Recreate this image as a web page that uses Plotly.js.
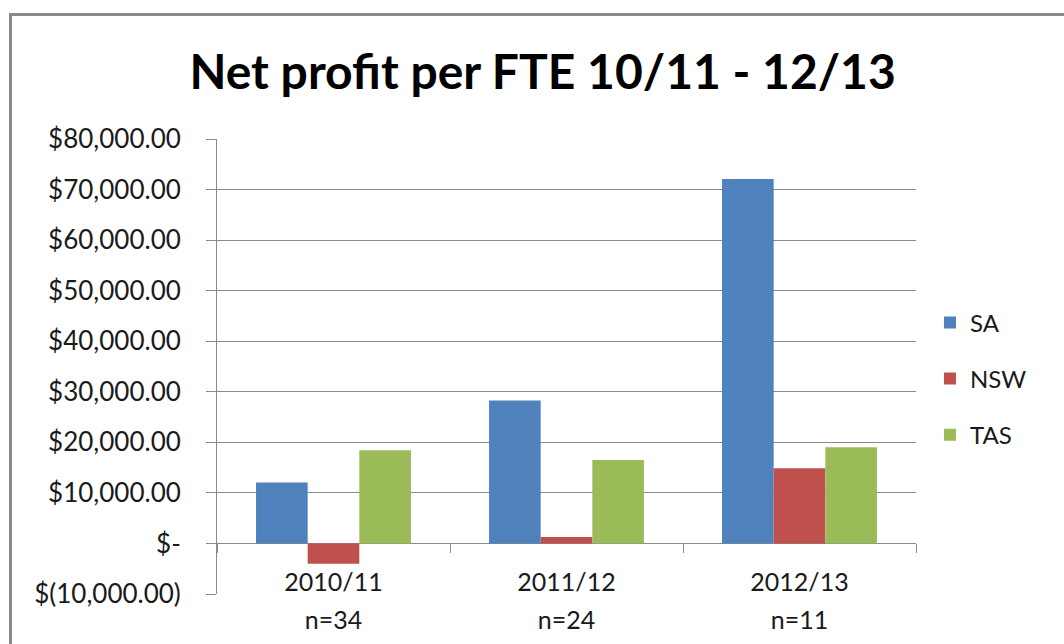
<!DOCTYPE html>
<html>
<head>
<meta charset="utf-8">
<script src="https://cdn.plot.ly/plotly-3.0.1.min.js"></script>
<style>
  html, body { margin: 0; padding: 0; background: #fff; }
  #wrap { position: relative; width: 1064px; height: 644px; overflow: hidden; }
  #chart { width: 1064px; height: 644px; }
  #frame { position: absolute; left: 9px; top: 13px; width: 1200px; height: 800px;
           border: 3px solid #8a8a8a; pointer-events: none; box-sizing: border-box; }
</style>
</head>
<body>
<div id="wrap">
  <div id="chart"></div>
  <div id="frame"></div>
</div>
<script>
const categories = ["2010/11", "2011/12", "2012/13"];
const sampleSizes = ["n=34", "n=24", "n=11"];
const seriesNames = ["SA", "NSW", "TAS"];
const saValues = [12050, 28260, 72100];
const nswValues = [-4020, 1250, 14850];
const tasValues = [18450, 16500, 19050];
const seriesColors = ["#4F81BD", "#C0504D", "#9BBB59"];
const yTickVals = [-10000, 0, 10000, 20000, 30000, 40000, 50000, 60000, 70000, 80000];
const yTickText = ["$(10,000.00)", "$-", "$10,000.00", "$20,000.00", "$30,000.00",
  "$40,000.00", "$50,000.00", "$60,000.00", "$70,000.00", "$80,000.00"];

const FONT = "Lato, 'Open Sans', sans-serif";
const seriesValues = [saValues, nswValues, tasValues];

const traces = seriesNames.map((name, i) => ({
  type: "bar",
  name: name,
  x: categories,
  y: seriesValues[i],
  marker: { color: seriesColors[i] },
  legendgroup: name,
  hoverinfo: "x+y+name"
}));

// invisible trace to carry the second category axis (sample sizes)
traces.push({
  type: "scatter", mode: "markers", x: categories, y: [0, 0, 0],
  xaxis: "x2", yaxis: "y", showlegend: false, hoverinfo: "skip",
  marker: { opacity: 0 }
});

const zeroPos = (0 - (-10000)) / (80000 - (-10000));

const layout = {
  width: 1064, height: 644,
  paper_bgcolor: "#ffffff", plot_bgcolor: "#ffffff",
  margin: { l: 217, r: 148, t: 139, b: 50 },
  font: { family: FONT, color: "#1a1a1a" },
  title: {
    text: "<b>Net profit per FTE 10/11 - 12/13</b>",
    font: { family: FONT, size: 48, color: "#000000" },
    x: 0.51, xanchor: "center", y: 0.888, yanchor: "middle"
  },
  barmode: "group",
  bargap: 0.335,
  bargroupgap: 0,
  showlegend: true,
  legend: {
    x: 1.02, xanchor: "left", y: 0.473, yanchor: "middle",
    font: { family: FONT, size: 24, color: "#1a1a1a" },
    traceorder: "grouped", tracegroupgap: 22,
    itemwidth: 30, bgcolor: "rgba(0,0,0,0)"
  },
  xaxis: {
    type: "category",
    categoryorder: "array", categoryarray: categories,
    range: [-0.5, 2.5],
    anchor: "free", position: zeroPos,
    showline: false, showgrid: false, zeroline: false,
    tickson: "boundaries", ticks: "outside", ticklen: 9, tickcolor: "#8a8a8a", tickwidth: 1,
    ticklabelstandoff: 22,
    tickfont: { family: FONT, size: 25, color: "#1a1a1a" }
  },
  xaxis2: {
    type: "category",
    categoryorder: "array", categoryarray: categories,
    range: [-0.5, 2.5],
    overlaying: "x", anchor: "free", position: 0,
    tickmode: "array", tickvals: categories, ticktext: sampleSizes,
    showline: false, showgrid: false, zeroline: false, ticks: "",
    ticklabelstandoff: 9,
    tickfont: { family: FONT, size: 25, color: "#1a1a1a" }
  },
  yaxis: {
    range: [-10000, 80000],
    tickmode: "array", tickvals: yTickVals, ticktext: yTickText,
    showgrid: true, gridcolor: "#8a8a8a", gridwidth: 1,
    zeroline: true, zerolinecolor: "#8a8a8a", zerolinewidth: 1,
    showline: true, linecolor: "#8a8a8a", linewidth: 1,
    ticks: "outside", ticklen: 10, tickcolor: "#8a8a8a",
    ticklabelstandoff: 20,
    tickfont: { family: FONT, size: 26, color: "#1a1a1a" }
  }
};

Plotly.newPlot("chart", traces, layout, { displayModeBar: false, staticPlot: true });
</script>
</body>
</html>
